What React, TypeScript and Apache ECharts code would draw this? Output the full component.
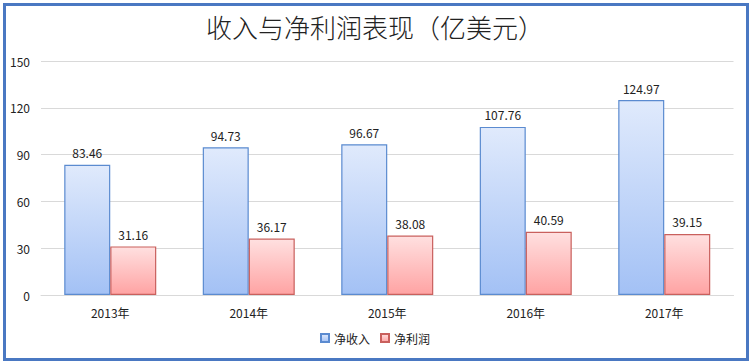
import React, { useEffect, useRef } from "react";
import * as echarts from "echarts";

const categories = ["2013年", "2014年", "2015年", "2016年", "2017年"];
const revenue = [83.46, 94.73, 96.67, 107.76, 124.97];
const profit = [31.16, 36.17, 38.08, 40.59, 39.15];
const seriesNames = ["净收入", "净利润"];
const titleText = "收入与净利润表现（亿美元）";

export default function App() {
  const ref = useRef<HTMLDivElement>(null);
  useEffect(() => {
    if (!ref.current) return;
    const chart = echarts.init(ref.current, undefined, { renderer: "svg" });
    const font = "'Noto Sans CJK SC', 'Noto Sans', sans-serif";
    chart.setOption({
      animation: false,
      backgroundColor: "#ffffff",
      textStyle: { fontFamily: font },
      title: {
        text: titleText,
        left: "center",
        top: 8,
        textStyle: { fontSize: 26, fontWeight: 300, color: "#222", fontFamily: font },
      },
      legend: {
        data: seriesNames,
        bottom: 12,
        left: "center",
        itemWidth: 8,
        itemHeight: 8,
        itemGap: 10,
        icon: "rect",
        textStyle: { fontSize: 12, color: "#222", fontFamily: font },
      },
      grid: { left: 41, right: 16.5, top: 61, bottom: 66, containLabel: false },
      xAxis: {
        type: "category",
        data: categories,
        axisLine: { lineStyle: { color: "#d9d9d9" } },
        axisTick: { show: false },
        axisLabel: { fontSize: 12, color: "#222", margin: 11, fontFamily: font },
      },
      yAxis: {
        type: "value",
        min: 0,
        max: 150,
        interval: 30,
        axisLine: { show: false },
        axisTick: { show: false },
        splitLine: { lineStyle: { color: "#d9d9d9" } },
        axisLabel: { fontSize: 12, color: "#222", margin: 11, fontFamily: font },
      },
      series: [
        {
          name: seriesNames[0],
          type: "bar",
          data: revenue,
          barWidth: 46,
          barGap: "0%",
          itemStyle: {
            color: new echarts.graphic.LinearGradient(0, 0, 0, 1, [
              { offset: 0, color: "#e0eafc" },
              { offset: 1, color: "#a3c1f5" },
            ]),
            borderColor: "#5b8bd0",
            borderWidth: 1.2,
          },
          label: { show: true, position: "top", distance: 6, fontSize: 12, color: "#222", fontFamily: font },
        },
        {
          name: seriesNames[1],
          type: "bar",
          data: profit,
          barWidth: 46,
          barGap: "0%",
          itemStyle: {
            color: new echarts.graphic.LinearGradient(0, 0, 0, 1, [
              { offset: 0, color: "#ffe0e0" },
              { offset: 1, color: "#ffa3a3" },
            ]),
            borderColor: "#c9605d",
            borderWidth: 1.2,
          },
          label: { show: true, position: "top", distance: 6, fontSize: 12, color: "#222", fontFamily: font },
        },
      ],
      graphic: [
        {
          type: "rect",
          left: 2,
          top: 2,
          shape: { x: 0, y: 0, width: 743, height: 355 },
          style: { fill: "none", stroke: "#4a78c2", lineWidth: 3 },
          silent: true,
        },
      ],
    });
    return () => chart.dispose();
  }, []);
  return (
    <div
      ref={ref}
      style={{ position: "fixed", left: 0, top: 0, width: 750, height: 361 }}
    />
  );
}
